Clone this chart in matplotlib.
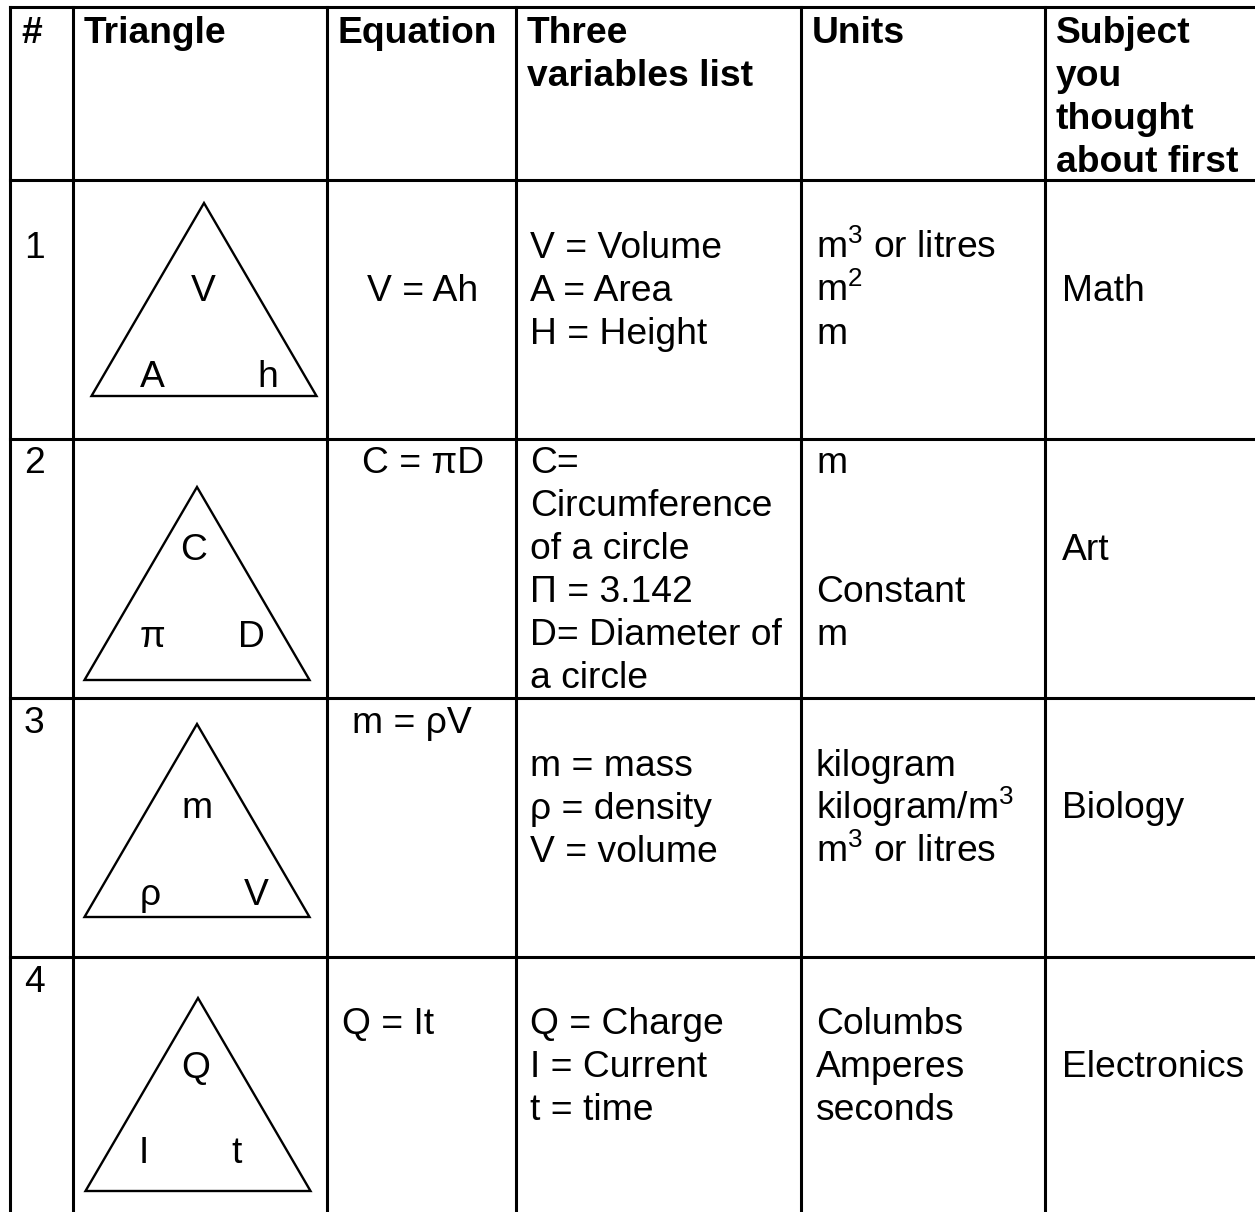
import matplotlib
matplotlib.use("Agg")
import matplotlib.pyplot as plt
from matplotlib.patches import Polygon

plt.rcParams["mathtext.fontset"] = "custom"
plt.rcParams["mathtext.rm"] = "Liberation Sans"
plt.rcParams["mathtext.it"] = "Liberation Sans"
plt.rcParams["mathtext.default"] = "regular"

# table content
headers = ["#", "Triangle", "Equation", "Three\nvariables list", "Units",
           "Subject\nyou\nthought\nabout first"]
row_ids = ["1", "2", "3", "4"]
tri_top = ["V", "C", "m", "Q"]
tri_left = ["A", "π", "ρ", "I"]
tri_right = ["h", "D", "V", "t"]
equations = ["V = Ah", "C = πD", "m = ρV", "Q = It"]
variables = [
    ["V = Volume", "A = Area", "H = Height"],
    ["C=", "Circumference", "of a circle", "Π = 3.142", "D= Diameter of", "a circle"],
    ["m = mass", "ρ = density", "V = volume"],
    ["Q = Charge", "I = Current", "t = time"],
]
units = [
    ["m$^{3}$ or litres", "m$^{2}$", "m"],
    ["m", "", "", "Constant", "m"],
    ["kilogram", "kilogram/m$^{3}$", "m$^{3}$ or litres"],
    ["Columbs", "Amperes", "seconds"],
]
subjects = ["Math", "Art", "Biology", "Electronics"]

# layout (pixels, y down)
W, H = 1255, 1212
col_lines = [10, 73, 327, 516, 801, 1045]
row_lines = [7, 180, 439, 698, 957]
line_h = 43
pad = 11
FS = 26.8
FONT = "Liberation Sans"

# text baselines per body row
first_base = [258, 473, 733, 992]
var_base = [258, 473, 776, 1034]
unit_base = [258, 473, 776, 1034]
subj_base = [301, 560, 818, 1077]
eq_base = [301, 473, 733, 1034]
eq_x = [423, 423, 412, 342]
eq_ha = ["center", "center", "center", "left"]

# triangle geometry per row
tri_cx = [204, 197, 197, 198]
tri_apex = [203, 487, 724, 998]
tri_w, tri_h = 225, 193
lab_top = [(203, 301), (194, 560), (197, 818), (196, 1078)]
lab_left = [(152, 387), (152, 647), (150, 905), (144, 1163)]
lab_right = [(268, 387), (251, 647), (256, 905), (237, 1163)]

fig = plt.figure(figsize=(W / 100, H / 100), dpi=100)
ax = fig.add_axes([0, 0, 1, 1])
ax.set_xlim(0, W)
ax.set_ylim(H, 0)
ax.axis("off")

lw = 2.2
for x in col_lines:
    ax.plot([x, x], [row_lines[0], H + 5], color="black", lw=lw,
            solid_capstyle="projecting")
for y in row_lines:
    ax.plot([col_lines[0], W + 5], [y, y], color="black", lw=lw,
            solid_capstyle="projecting")


def put(x, y, s, ha="left", bold=False):
    ax.text(x, y, s, ha=ha, va="baseline", fontsize=FS, family=FONT,
            fontweight="bold" if bold else "normal", color="black")


# header
for j, h in enumerate(headers):
    for k, part in enumerate(h.split("\n")):
        put(col_lines[j] + pad, 43 + k * line_h, part, bold=True)

# body rows
for i in range(len(row_ids)):
    put(col_lines[0] + 14, first_base[i], row_ids[i])

    cx, ay = tri_cx[i], tri_apex[i]
    tri = Polygon([(cx, ay), (cx - tri_w / 2, ay + tri_h), (cx + tri_w / 2, ay + tri_h)],
                  closed=True, fill=False, edgecolor="black", lw=1.7, joinstyle="miter")
    ax.add_patch(tri)
    put(*lab_top[i], tri_top[i], ha="center")
    put(*lab_left[i], tri_left[i], ha="center")
    put(*lab_right[i], tri_right[i], ha="center")

    put(eq_x[i], eq_base[i], equations[i], ha=eq_ha[i])

    for k, s in enumerate(variables[i]):
        put(col_lines[3] + 14, var_base[i] + k * line_h, s)
    for k, s in enumerate(units[i]):
        put(col_lines[4] + 15, unit_base[i] + k * line_h, s)

    put(col_lines[5] + 17, subj_base[i], subjects[i])

plt.savefig("out.png", dpi=100)
